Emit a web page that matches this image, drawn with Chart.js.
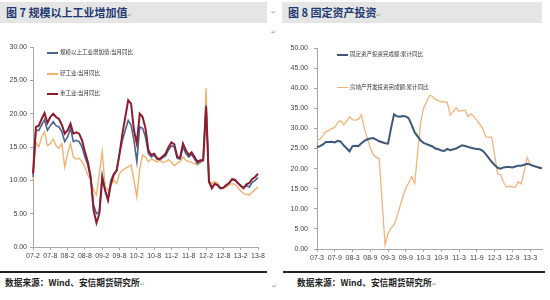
<!DOCTYPE html>
<html>
<head>
<meta charset="utf-8">
<script src="https://cdn.jsdelivr.net/npm/chart.js@4/dist/chart.umd.min.js"></script>
<style>
	body { margin: 0; width: 550px; height: 300px; background: #fff; position: relative; overflow: hidden; font-family: "Noto Sans CJK SC", sans-serif; }
	.bar { position: absolute; top: 2px; height: 21px; background: #e5e5e5; }
	.ttl { position: absolute; top: 2px; line-height: 21px; font-size: 11px; font-weight: bold; color: #1f3a70; white-space: nowrap; }
	.pm { font-size: 6px; color: #999; font-weight: normal; }
	.mark { position: absolute; font-size: 6px; color: #999; }
	.wrap { position: absolute; top: 30px; height: 240px; }
	.leg { position: absolute; font-size: 5.5px; color: #333; white-space: nowrap; line-height: 8px; }
	.leg i { display: inline-block; width: 11px; height: 2px; vertical-align: middle; margin-right: 2px; }
	.rule { position: absolute; top: 271px; height: 1.5px; background: #222; }
	.src { position: absolute; top: 276px; font-size: 8.7px; font-weight: bold; color: #222; white-space: nowrap; line-height: 14px; }
</style>
</head>
<body>
<div class="bar" style="left:0;width:267px"></div>
<div class="ttl" style="left:6px">图 7 规模以上工业增加值<span class="pm">↵</span></div>
<div class="bar" style="left:282px;width:260px"></div>
<div class="ttl" style="left:288px">图 8 固定资产投资<span class="pm">↵</span></div>
<span class="mark" style="left:271px;top:7px">↵</span>
<span class="mark" style="left:271px;top:27px">↵</span>

<div class="wrap" style="left:0;width:272px"><canvas id="ipChart" width="272" height="240"></canvas></div>
<div class="wrap" style="left:275px;width:275px"><canvas id="faiChart" width="275" height="240"></canvas></div>

<div class="leg" style="left:47px;top:48px"><i style="background:#4a6492"></i>规模以上工业增加值:当月同比</div>
<div class="leg" style="left:47px;top:69px"><i style="background:#f2b26e"></i>轻工业:当月同比</div>
<div class="leg" style="left:47px;top:89px"><i style="background:#8e1c2c"></i>重工业:当月同比</div>
<div class="leg" style="left:337px;top:50px"><i style="background:#3d5879"></i>固定资产投资完成额:累计同比</div>
<div class="leg" style="left:337px;top:83px"><i style="background:#f3b47c;height:1.5px"></i>房地产开发投资完成额:累计同比</div>

<div class="rule" style="left:0;width:267px"></div>
<div class="rule" style="left:283px;width:262px"></div>
<div class="src" style="left:5px">数据来源：Wind、安信期货研究所<span class="pm">↵</span></div>
<div class="src" style="left:297px">数据来源：Wind、安信期货研究所<span class="pm">↵</span></div>
<span class="mark" style="left:272px;top:281px">↵</span>

<script>
/* ---------- data: 图7 ---------- */
const ipMonths = [
	'07-2','07-3','07-4','07-5','07-6','07-7','07-8','07-9','07-10','07-11','07-12',
	'08-1','08-2','08-3','08-4','08-5','08-6','08-7','08-8','08-9','08-10','08-11','08-12',
	'09-1','09-2','09-3','09-4','09-5','09-6','09-7','09-8','09-9','09-10','09-11','09-12',
	'10-1','10-2','10-3','10-4','10-5','10-6','10-7','10-8','10-9','10-10','10-11','10-12',
	'11-1','11-2','11-3','11-4','11-5','11-6','11-7','11-8','11-9','11-10','11-11','11-12',
	'12-1','12-2','12-3','12-4','12-5','12-6','12-7','12-8','12-9','12-10','12-11','12-12',
	'13-1','13-2','13-3','13-4','13-5','13-6','13-7','13-8'
];
const ipTicks = ['07-2','07-8','08-2','08-8','09-2','09-8','10-2','10-8','11-2','11-8','12-2','12-8','13-2','13-8'];
const ipTotal = [
	10.5, 17.5, 17.5, 18.3, 19.1, 17.5, 18.2, 18.8, 18.2, 18.0, 17.3,
	15.8, 16.5, 17.8, 15.8, 16.0, 15.8, 15.0, 13.5, 12.3, 10.3, 6.3, 5.0,
	5.3, 10.8, 8.5, 7.2, 10.0, 11.0, 11.5, 14.0, 16.0, 17.5, 19.0, 18.3,
	16.0, 12.8, 18.0, 17.8, 16.5, 14.0, 13.5, 13.8, 13.2, 13.1, 13.4, 13.7,
	14.6, 15.2, 15.0, 13.3, 13.2, 15.0, 14.0, 13.5, 13.9, 13.2, 12.5, 12.8,
	13.0, 21.3, 9.8, 9.0, 9.4, 9.3, 8.8, 8.9, 9.2, 9.6, 10.1, 10.0,
	9.6, 9.2, 8.9, 9.2, 9.0, 9.7, 10.0, 10.4
];
const ipLight = [
	10.0, 15.8, 15.0, 16.5, 17.3, 15.2, 15.5, 16.2, 15.2, 14.8, 15.5,
	12.0, 14.0, 15.5, 13.5, 13.2, 13.3, 12.8, 12.0, 10.8, 10.0, 8.5, 7.8,
	11.0, 14.3, 9.0, 8.5, 9.2, 10.0, 9.5, 11.0, 11.5, 11.8, 12.0, 12.3,
	10.0, 7.5, 11.8, 13.8, 13.5, 12.8, 13.2, 13.0, 12.8, 13.0, 12.7, 12.8,
	13.1, 12.7, 12.2, 12.6, 12.8, 13.5, 13.0, 12.8, 12.7, 12.5, 12.3, 12.6,
	13.0, 23.8, 10.0, 9.5, 9.8, 9.6, 8.8, 8.8, 9.0, 9.3, 9.5, 9.4,
	8.9, 8.4, 8.0, 7.9, 7.8, 8.2, 8.6, 9.0
];
const ipHeavy = [
	11.0, 18.0, 18.2, 19.2, 20.1, 18.6, 19.5, 20.0, 19.5, 19.2, 18.3,
	17.0, 17.5, 18.5, 17.0, 17.2, 17.0, 16.0, 14.3, 12.8, 10.5, 5.5, 3.6,
	5.0, 10.3, 8.5, 7.0, 9.5, 10.8, 11.5, 14.0, 17.0, 19.5, 22.0, 21.5,
	17.5, 15.5, 20.0, 19.5, 17.8, 14.5, 13.8, 14.0, 13.3, 13.2, 13.6, 14.0,
	15.0, 15.7, 15.4, 13.5, 13.4, 15.5, 14.5, 13.8, 14.2, 13.5, 12.8, 13.0,
	13.0, 21.0, 9.8, 8.8, 9.5, 9.3, 8.8, 8.9, 9.3, 9.6, 10.2, 10.1,
	9.6, 9.2, 8.8, 9.4, 9.6, 10.2, 10.5, 11.0
];

/* ---------- data: 图8 (1月无数据) ---------- */
const faiMonths = [
	'07-3','07-4','07-5','07-6','07-7','07-8','07-9','07-10','07-11','07-12',
	'08-1','08-2','08-3','08-4','08-5','08-6','08-7','08-8','08-9','08-10','08-11','08-12',
	'09-1','09-2','09-3','09-4','09-5','09-6','09-7','09-8','09-9','09-10','09-11','09-12',
	'10-1','10-2','10-3','10-4','10-5','10-6','10-7','10-8','10-9','10-10','10-11','10-12',
	'11-1','11-2','11-3','11-4','11-5','11-6','11-7','11-8','11-9','11-10','11-11','11-12',
	'12-1','12-2','12-3','12-4','12-5','12-6','12-7','12-8','12-9','12-10','12-11','12-12',
	'13-1','13-2','13-3','13-4','13-5','13-6','13-7'
];
const faiTicks = ['07-3','07-9','08-3','08-9','09-3','09-9','10-3','10-9','11-3','11-9','12-3','12-9','13-3'];
const faiCum = [
	25.3, 25.6, 26.0, 26.6, 26.6, 26.7, 26.5, 26.9, 26.7, 25.8,
	null, 24.3, 25.6, 25.7, 25.6, 26.3, 26.9, 27.3, 27.5, 27.6, 27.2, 26.8,
	null, 26.3, 26.2, 30.0, 33.5, 33.0, 32.9, 33.1, 33.0, 32.5, 30.8, 29.0,
	null, 27.0, 26.4, 26.1, 25.8, 25.5, 25.0, 24.8, 24.5, 24.4, 24.9, 24.6,
	null, 25.0, 25.4, 25.8, 25.6, 25.4, 25.2, 25.0, 24.9, 24.8, 24.4, 23.6,
	null, 21.7, 20.9, 20.2, 20.0, 20.3, 20.4, 20.4, 20.3, 20.5, 20.7, 20.7,
	null, 21.2, 21.0, 20.7, 20.5, 20.2, 20.1
];
const reCum = [
	27.1, 27.3, 28.2, 29.2, 29.5, 30.0, 30.2, 31.5, 32.0, 30.9,
	null, 32.9, 32.2, 32.0, 32.3, 33.4, 30.0, 27.5, 25.2, 23.5, 22.8, 22.5,
	null, 1.0, 3.9, 5.2, 6.0, 8.0, 10.5, 13.0, 15.2, 16.5, 18.0, 16.3,
	null, 31.5, 35.1, 36.6, 38.2, 38.0, 37.2, 36.9, 36.6, 36.6, 36.5, 33.3,
	null, 35.1, 34.2, 34.4, 34.6, 32.9, 33.6, 33.0, 32.0, 31.0, 29.9, 27.9,
	null, 27.8, 23.5, 18.7, 18.5, 16.6, 15.4, 15.6, 15.4, 15.4, 16.7, 16.2,
	null, 22.8, 21.0, 20.6, 20.3, 20.5, 20.1
];

/* ---------- helpers ---------- */
const axisGray = '#a6a6a6';
const tickFont = { family: 'Liberation Sans, Arial, sans-serif', size: 7 };

function line(label, data, color, width, order) {
	return { label, data, borderColor: color, backgroundColor: color, borderWidth: width, pointRadius: 0, tension: 0, order, spanGaps: true };
}

function makeChart(id, months, ticks, datasets, yMax, yWidth, xHeight, pad) {
	const ctx = document.getElementById(id).getContext('2d');
	return new Chart(ctx, {
		type: 'line',
		data: { labels: months, datasets },
		options: {
			responsive: false,
			animation: false,
			layout: { padding: pad },
			plugins: { legend: { display: false }, tooltip: { enabled: false } },
			scales: {
				x: {
					afterFit: s => { s.height = xHeight; },
					border: { color: axisGray, width: 1 },
					grid: {
						drawOnChartArea: false, tickLength: 3,
						color: c => ticks.includes(months[c.index]) ? axisGray : 'rgba(0,0,0,0)'
					},
					ticks: {
						autoSkip: false, maxRotation: 0, padding: 2, color: '#404040', font: tickFont,
						callback: (v, i) => ticks.includes(months[i]) ? months[i] : ''
					}
				},
				y: {
					min: 0, max: yMax,
					afterFit: s => { s.width = yWidth; },
					border: { color: axisGray, width: 1 },
					grid: { drawOnChartArea: false, tickLength: 3, color: axisGray },
					ticks: { stepSize: 5, padding: id === 'faiChart' ? 6 : 3, color: '#404040', font: tickFont, callback: v => v.toFixed(2) }
				}
			}
		}
	});
}

/* ---------- init ---------- */
makeChart('ipChart', ipMonths, ipTicks, [
	line('规模以上工业增加值:当月同比', ipTotal, '#4a6492', 1.6, 1),
	line('轻工业:当月同比', ipLight, '#f2b26e', 1.4, 2),
	line('重工业:当月同比', ipHeavy, '#8e1c2c', 2.0, 0)
], 30, 33, 23, { top: 17, right: 14, left: 0, bottom: 0 });

makeChart('faiChart', faiMonths, faiTicks, [
	line('固定资产投资完成额:累计同比', faiCum, '#3d5879', 2.0, 0),
	line('房地产开发投资完成额:累计同比', reCum, '#f3b47c', 1.3, 1)
], 50, 42, 21, { top: 18, right: 8, left: 0, bottom: 0 });
</script>
</body>
</html>
